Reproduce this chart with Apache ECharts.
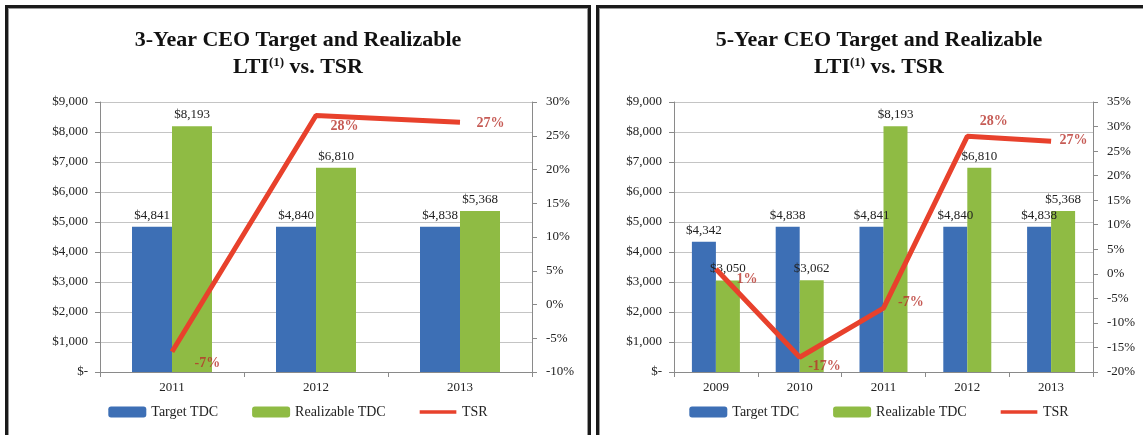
<!DOCTYPE html>
<html lang="en">
<head>
    <meta charset="UTF-8">
    <title>CEO Target and Realizable LTI vs. TSR</title>
    <script src="https://cdn.jsdelivr.net/npm/echarts@6/dist/echarts.min.js"></script>
    <style>
        body { margin: 0; background: #fff; width: 1143px; height: 435px; overflow: hidden; position: relative; }
        .panel { position: absolute; top: 5px; border: 3px solid #1a1a1a; border-bottom: none; box-shadow: inset 1px 1px 0 #999, inset -1px 0 0 #999; }
        #left { left: 5px; width: 580px; height: 430px; }
        #right { left: 596px; width: 560px; height: 430px; }
        .chart { width: 100%; height: 100%; }
    </style>
</head>
<body>
<div class="panel" id="left"><div class="chart" id="chart3"></div></div>
<div class="panel" id="right"><div class="chart" id="chart5"></div></div>

<script>
    // 3-year data
    var years3 = ['2011', '2012', '2013'];
    var target3 = [4841, 4840, 4838];
    var realizable3 = [8193, 6810, 5368];
    var tsr3 = [-7, 28, 27];

    // 5-year data
    var years5 = ['2009', '2010', '2011', '2012', '2013'];
    var target5 = [4342, 4838, 4841, 4840, 4838];
    var realizable5 = [3050, 3062, 8193, 6810, 5368];
    var tsr5 = [1, -17, -7, 28, 27];

    var serif = '"Liberation Serif", "DejaVu Serif", serif';
    var blue = '#3d6fb5';
    var green = '#8fbb44';
    var red = '#e8412c';
    // thick line icon for the TSR legend entry (tiny rects keep the full height box)
    var lineIcon = 'path://M0,0h40v0.01h-40z M0,4h40v4h-40z M0,11.99h40v0.01h-40z';

    function money(v) {
        return v === 0 ? '$-' : '$' + v.toLocaleString('en-US');
    }

    function makeOption(cfg) {
        return {
            animation: false,
            textStyle: { fontFamily: serif },
            title: {
                text: cfg.title + '\n{t|LTI}{s|(1)}{t| vs. TSR}',
                left: 'center',
                top: 14,
                textStyle: {
                    fontFamily: serif, fontSize: 22, fontWeight: 'bold', color: '#111', lineHeight: 27,
                    rich: {
                        t: { fontFamily: serif, fontSize: 22, fontWeight: 'bold', color: '#111' },
                        s: { fontFamily: serif, fontSize: 13, fontWeight: 'bold', color: '#111', padding: [0, 0, 9, 0] }
                    }
                }
            },
            legend: {
                data: ['Target TDC', 'Realizable TDC', { name: 'TSR', icon: lineIcon }],
                left: 'center',
                top: 392,
                itemWidth: 38,
                itemHeight: 11,
                itemGap: 34,
                textStyle: { fontFamily: serif, fontSize: 14, color: '#222' }
            },
            grid: { left: cfg.gridLeft, top: 94, width: cfg.gridWidth, height: 270 },
            xAxis: {
                type: 'category',
                data: cfg.years,
                axisLine: { lineStyle: { color: '#8a8a8a' } },
                axisTick: { show: true, lineStyle: { color: '#8a8a8a' } },
                axisLabel: { fontFamily: serif, fontSize: 13, color: '#222', margin: 9 }
            },
            yAxis: [
                {
                    type: 'value', min: 0, max: 9000, interval: 1000,
                    axisLine: { show: true, lineStyle: { color: '#8a8a8a' } },
                    axisTick: { show: true, length: 5, lineStyle: { color: '#8a8a8a' } },
                    splitLine: { lineStyle: { color: '#c4c4c4' } },
                    axisLabel: { fontFamily: serif, fontSize: 13, color: '#222', margin: 12, formatter: money }
                },
                {
                    type: 'value', min: cfg.pMin, max: cfg.pMax, interval: 5,
                    axisLine: { show: true, lineStyle: { color: '#8a8a8a' } },
                    axisTick: { show: true, length: 5, lineStyle: { color: '#8a8a8a' } },
                    splitLine: { show: false },
                    axisLabel: { fontFamily: serif, fontSize: 13, color: '#222', margin: 14, formatter: '{value}%' }
                }
            ],
            series: [
                {
                    name: 'Target TDC', type: 'bar', data: cfg.target,
                    barWidth: cfg.barWidth, barGap: '0%',
                    itemStyle: { color: blue },
                    label: { show: true, position: 'top', distance: 5, fontFamily: serif, fontSize: 13, color: '#222', formatter: function (p) { return money(p.value); } }
                },
                {
                    name: 'Realizable TDC', type: 'bar', data: cfg.realizable,
                    barWidth: cfg.barWidth,
                    itemStyle: { color: green },
                    label: { show: true, position: 'top', distance: 5, fontFamily: serif, fontSize: 13, color: '#222', formatter: function (p) { return money(p.value); } }
                },
                {
                    name: 'TSR', type: 'line', yAxisIndex: 1,
                    data: cfg.tsr,
                    symbol: 'none',
                    lineStyle: { color: red, width: 5 },
                    itemStyle: { color: red },
                    z: 5
                },
                {
                    // invisible points that carry the TSR labels
                    name: 'TSR labels', type: 'scatter', yAxisIndex: 1,
                    data: cfg.tsr.map(function (v, i) {
                        return { value: v, label: { offset: cfg.labelOffsets[i] } };
                    }),
                    symbolSize: 1,
                    itemStyle: { color: 'rgba(0,0,0,0)' },
                    label: { show: true, position: 'right', distance: 6, fontFamily: serif, fontSize: 14, fontWeight: 'bold', color: '#b8322a', formatter: '{c}%' },
                    z: 6
                }
            ]
        };
    }

    var chart3 = echarts.init(document.getElementById('chart3'));
    chart3.setOption(makeOption({
        title: '3-Year CEO Target and Realizable',
        years: years3, target: target3, realizable: realizable3, tsr: tsr3,
        gridLeft: 92, gridWidth: 432, barWidth: 40,
        pMin: -10, pMax: 30,
        labelOffsets: [[16, 12], [8, 11], [10, 1]]
    }));

    var chart5 = echarts.init(document.getElementById('chart5'));
    chart5.setOption(makeOption({
        title: '5-Year CEO Target and Realizable',
        years: years5, target: target5, realizable: realizable5, tsr: tsr5,
        gridLeft: 75, gridWidth: 419, barWidth: 24,
        pMin: -20, pMax: 35,
        labelOffsets: [[14, 10], [2, 9], [8, -6], [6, -15], [2, -1]]
    }));
</script>
</body>
</html>
